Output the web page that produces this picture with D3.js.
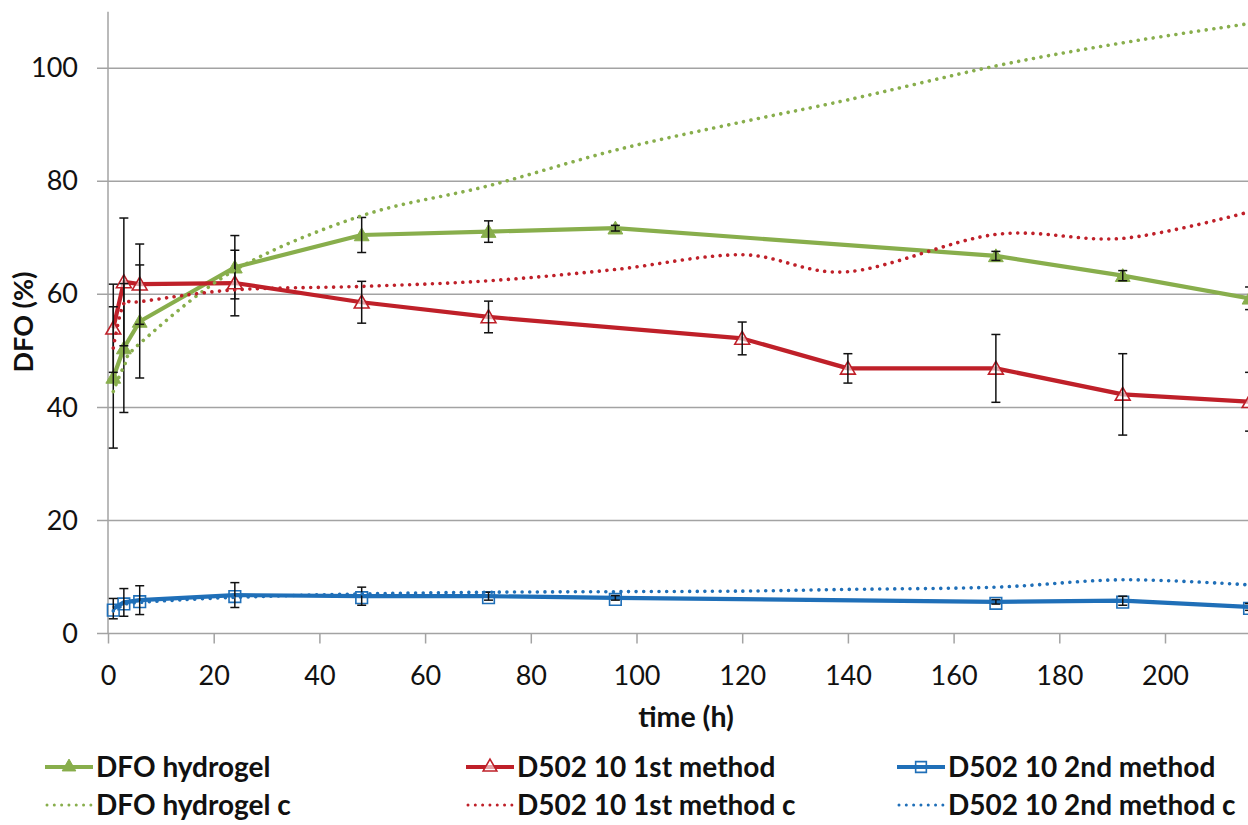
<!DOCTYPE html>
<html>
<head>
<meta charset="utf-8">
<script src="https://cdn.jsdelivr.net/npm/d3@7"></script>
<style>
  body { margin: 0; background: #fff; }
  svg text { font-family: Lato, "Open Sans", sans-serif; fill: #111; }
</style>
</head>
<body>
<svg id="chart" width="1248" height="825"></svg>
<script>
// Release of DFO over time (h), three formulations, measured (with SD) and "c" curves
const xTicks = [0, 20, 40, 60, 80, 100, 120, 140, 160, 180, 200];
const yTicks = [0, 20, 40, 60, 80, 100];

// DFO hydrogel (measured)
const hydrogelHours = [1, 3, 6, 24, 48, 72, 96, 168, 192, 216];
const hydrogelValues = [45.3, 50.5, 55.2, 64.8, 70.5, 71.1, 71.7, 66.8, 63.3, 59.3];
const hydrogelSD = [12.5, 11.4, 10.0, 5.6, 3.1, 1.9, 0.5, 0.8, 0.9, 2.0];

// D502 10, 1st method (measured)
const firstHours = [1, 3, 6, 24, 48, 72, 120, 140, 168, 192, 216];
const firstValues = [54.0, 62.2, 61.8, 62.0, 58.6, 56.0, 52.2, 46.9, 46.9, 42.3, 41.0];
const firstSD = [7.8, 11.3, 7.1, 5.8, 3.7, 2.8, 2.9, 2.6, 6.0, 7.2, 5.2];

// D502 10, 2nd method (measured)
const secondHours = [1, 3, 6, 24, 48, 72, 96, 168, 192, 216];
const secondValues = [4.4, 5.5, 5.9, 6.8, 6.6, 6.6, 6.3, 5.6, 5.8, 4.7];
const secondSD = [1.8, 2.45, 2.55, 2.2, 1.6, 0.7, 0.4, 0.4, 0.8, 0.6];

// "c" curves share one time grid
const cHours = [1, 3, 6, 24, 48, 72, 96, 120, 140, 168, 192, 216];
const hydrogelC = [42.8, 47.2, 51.3, 64.3, 73.9, 79.2, 85.5, 90.5, 94.4, 100.4, 104.5, 107.9];
const firstC = [50.5, 58.4, 58.7, 60.8, 61.4, 62.4, 64.4, 67.0, 64.0, 70.6, 69.9, 74.6];
const secondC = [4.0, 5.0, 5.5, 6.4, 7.0, 7.3, 7.4, 7.5, 7.8, 8.2, 9.5, 8.6];

const legendLabels = ["DFO hydrogel", "D502 10 1st method", "D502 10 2nd method",
                      "DFO hydrogel c", "D502 10 1st method c", "D502 10 2nd method c"];

const GREEN = "#88AE4C", RED = "#BF2029", BLUE = "#1F6FB8", GRID = "#A3A3A3";

const svg = d3.select("#chart");
const W = 1248;

const x = d3.scaleLinear().domain([0, 200]).range([108, 1165]);
const y = d3.scaleLinear().domain([0, 110]).range([633.5, 11.7]);

// gridlines (the zero line doubles as the category axis)
svg.append("g").selectAll("line").data(yTicks).join("line")
  .attr("x1", 97).attr("x2", W)
  .attr("y1", d => y(d)).attr("y2", d => y(d))
  .attr("stroke", GRID).attr("stroke-width", 1.5);

// value axis line
svg.append("line")
  .attr("x1", x(0)).attr("x2", x(0))
  .attr("y1", y(110)).attr("y2", y(0))
  .attr("stroke", GRID).attr("stroke-width", 1.5);

// axes (labels + x tick marks)
const yAxis = svg.append("g").attr("transform", `translate(${x(0)},0)`)
  .call(d3.axisLeft(y).tickValues(yTicks).tickSize(0).tickPadding(30).tickFormat(d3.format("d")));
const xAxis = svg.append("g").attr("transform", `translate(0,${y(0)})`)
  .call(d3.axisBottom(x).tickValues(xTicks).tickSize(10).tickPadding(22).tickFormat(d3.format("d")));
[yAxis, xAxis].forEach(g => {
  g.select(".domain").remove();
  g.selectAll(".tick line").attr("stroke", GRID).attr("stroke-width", 1.5);
  g.selectAll("text").attr("font-size", 27).attr("fill", "#111")
    .style("font-family", "Lato, 'Open Sans', sans-serif");
});

// axis titles
svg.append("text").attr("x", 686).attr("y", 727)
  .attr("text-anchor", "middle").attr("font-size", 28.5).attr("font-weight", "bold")
  .text("time (h)");
svg.append("text").attr("transform", "translate(33,322) rotate(-90)")
  .attr("text-anchor", "middle").attr("font-size", 27).attr("font-weight", "bold")
  .text("DFO (%)");

const plot = svg.append("g");

const zip = (hs, vs, es) => hs.map((h, i) => ({ h, v: vs[i], e: es ? es[i] : 0 }));

const straight = d3.line().x(d => x(d.h)).y(d => y(d.v));
const smooth = d3.line().x(d => x(d.h)).y(d => y(d.v)).curve(d3.curveCardinal.tension(0));

const tri = d3.symbol().type(d3.symbolTriangle).size(95);
const sq = d3.symbol().type(d3.symbolSquare).size(135);

const measured = [
  { data: zip(hydrogelHours, hydrogelValues, hydrogelSD), color: GREEN, marker: "triFilled" },
  { data: zip(firstHours, firstValues, firstSD), color: RED, marker: "triOpen" },
  { data: zip(secondHours, secondValues, secondSD), color: BLUE, marker: "square" }
];
const curves = [
  { data: zip(cHours, hydrogelC), color: GREEN },
  { data: zip(cHours, firstC), color: RED },
  { data: zip(cHours, secondC), color: BLUE }
];

function drawMarker(g, kind, color, scale = 1) {
  const t = d3.symbol().type(d3.symbolTriangle).size(95 * scale);
  const s = d3.symbol().type(d3.symbolSquare).size(135 * scale);
  if (kind === "triFilled") {
    g.append("path").attr("d", t).attr("fill", color).attr("stroke", color).attr("stroke-width", 1);
  } else if (kind === "triOpen") {
    g.append("path").attr("d", t).attr("fill", "#fff").attr("fill-opacity", 0.6)
      .attr("stroke", color).attr("stroke-width", 1.6);
  } else {
    g.append("path").attr("d", s).attr("fill", "none").attr("stroke", color).attr("stroke-width", 1.6);
  }
}

measured.forEach(s => {
  plot.append("path").datum(s.data).attr("d", straight)
    .attr("fill", "none").attr("stroke", s.color).attr("stroke-width", 4.2)
    .attr("stroke-linejoin", "round");
  s.data.forEach(d => {
    const g = plot.append("g").attr("transform", `translate(${x(d.h)},${y(d.v) + 1.5})`);
    drawMarker(g, s.marker, s.color);
  });
});

// error bars (± SD)
measured.forEach(s => {
  const eb = plot.append("g").attr("stroke", "#111").attr("stroke-width", 1.5);
  s.data.forEach(d => {
    const cx = x(d.h), top = y(d.v + d.e), bot = y(d.v - d.e);
    eb.append("line").attr("x1", cx).attr("x2", cx).attr("y1", top).attr("y2", bot);
    eb.append("line").attr("x1", cx - 4.5).attr("x2", cx + 4.5).attr("y1", top).attr("y2", top);
    eb.append("line").attr("x1", cx - 4.5).attr("x2", cx + 4.5).attr("y1", bot).attr("y2", bot);
  });
});

curves.forEach(s => {
  plot.append("path").datum(s.data).attr("d", smooth)
    .attr("fill", "none").attr("stroke", s.color).attr("stroke-width", 3.6)
    .attr("stroke-linecap", "round").attr("stroke-dasharray", "0.01 7.6");
});

// legend: two rows, three columns
const legendCols = [45, 466, 897];
const legendRows = [767, 805];
const legendItems = [
  { color: GREEN, marker: "triFilled", dotted: false },
  { color: RED, marker: "triOpen", dotted: false },
  { color: BLUE, marker: "square", dotted: false },
  { color: GREEN, dotted: true },
  { color: RED, dotted: true },
  { color: BLUE, dotted: true }
];
const legend = svg.append("g");
legendItems.forEach((it, i) => {
  const lx = legendCols[i % 3], ly = legendRows[Math.floor(i / 3)];
  const g = legend.append("g").attr("transform", `translate(${lx},${ly})`);
  if (it.dotted) {
    g.append("line").attr("x1", 2).attr("x2", 46).attr("y1", 0).attr("y2", 0)
      .attr("stroke", it.color).attr("stroke-width", 3).attr("stroke-linecap", "round")
      .attr("stroke-dasharray", "0.01 7.3");
  } else {
    g.append("line").attr("x1", 0).attr("x2", 48).attr("y1", 0).attr("y2", 0)
      .attr("stroke", it.color).attr("stroke-width", 4.2);
    const m = g.append("g").attr("transform", "translate(24,0)");
    drawMarker(m, it.marker, it.color, 0.85);
  }
  g.append("text").attr("x", 51).attr("y", 0).attr("dy", "0.36em")
    .attr("font-size", 28).attr("font-weight", "bold").text(legendLabels[i]);
});
</script>
</body>
</html>
